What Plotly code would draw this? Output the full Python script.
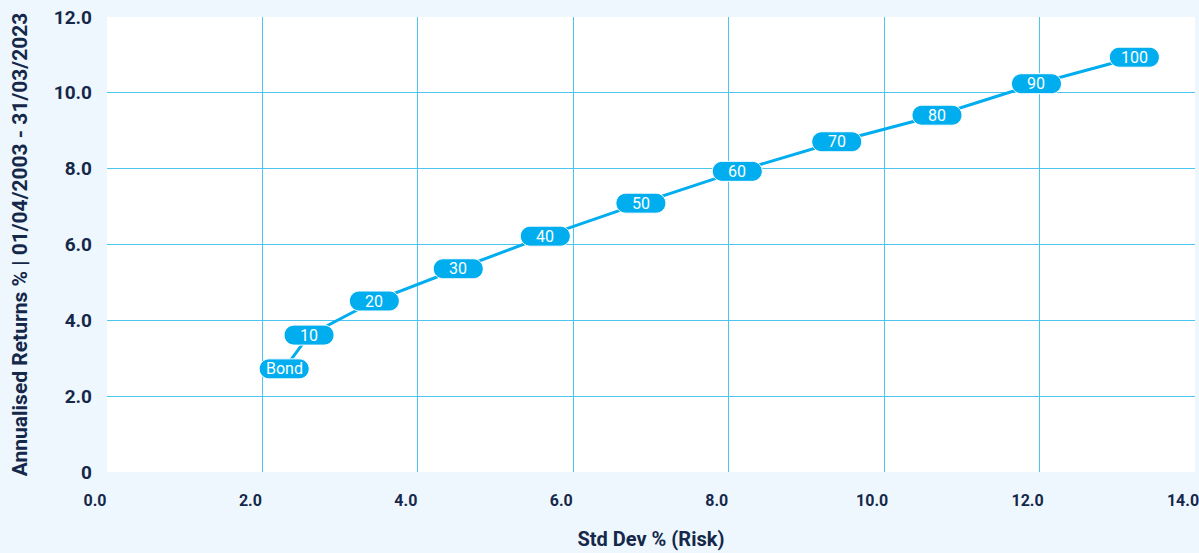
import plotly.graph_objects as go

# ---- data ----
labels = ["Bond", "10", "20", "30", "40", "50", "60", "70", "80", "90", "100"]
risk = [2.28, 2.60, 3.44, 4.52, 5.64, 6.87, 8.11, 9.39, 10.68, 11.96, 13.22]
returns = [2.72, 3.61, 4.51, 5.36, 6.22, 7.09, 7.93, 8.71, 9.41, 10.24, 10.94]

x_ticks = [0, 2, 4, 6, 8, 10, 12, 14]
x_ticktext = ["0.0", "2.0", "4.0", "6.0", "8.0", "10.0", "12.0", "14.0"]
y_ticks = [0, 2, 4, 6, 8, 10, 12]
y_ticktext = ["0", "2.0", "4.0", "6.0", "8.0", "10.0", "12.0"]

# ---- styles ----
CYAN = "#00AEEF"
GRID = "#4CC6F1"
NAVY = "#15284A"
BG = "#EEF7FD"
FONT = "Roboto, sans-serif"

PILL = ("M -15,-10 L 15,-10 C 20.5,-10 25,-5.5 25,0 C 25,5.5 20.5,10 15,10 "
        "L -15,10 C -20.5,10 -25,5.5 -25,0 C -25,-5.5 -20.5,-10 -15,-10 Z")

fig = go.Figure()
fig.add_trace(go.Scatter(
    x=risk, y=returns, mode="lines",
    line=dict(color=CYAN, width=3),
    hoverinfo="skip", showlegend=False,
))

shapes = []
annotations = []
for lab, xv, yv in zip(labels, risk, returns):
    shapes.append(dict(
        type="path", xref="x", yref="y",
        xsizemode="pixel", ysizemode="pixel",
        xanchor=xv, yanchor=yv, path=PILL,
        fillcolor=CYAN, line=dict(color="white", width=1), layer="above",
    ))
    annotations.append(dict(
        x=xv, y=yv, xref="x", yref="y", text=lab, showarrow=False,
        font=dict(family=FONT, size=16, color="white"),
    ))

fig.update_layout(
    width=1199, height=553,
    margin=dict(l=107, r=4, t=17, b=81),
    paper_bgcolor=BG, plot_bgcolor="white",
    shapes=shapes, annotations=annotations,
    font=dict(family=FONT, color=NAVY),
    xaxis=dict(
        range=[0, 14], tickvals=x_ticks, ticktext=x_ticktext,
        showgrid=True, gridcolor=GRID, gridwidth=1, zeroline=False,
        showline=False, ticks="", ticklabelstandoff=17, ticklabelshift=-12,
        ticklabeloverflow="allow",
        tickfont=dict(family=FONT, size=16, color=NAVY, weight="bold"),
        title=dict(text="Std Dev % (Risk)", standoff=22,
                   font=dict(family=FONT, size=20, color=NAVY, weight="bold")),
        automargin=False,
    ),
    yaxis=dict(
        range=[0, 12], tickvals=y_ticks, ticktext=y_ticktext,
        showgrid=True, gridcolor=GRID, gridwidth=1, zeroline=False,
        showline=False, ticks="", ticklabelstandoff=14,
        tickfont=dict(family=FONT, size=19, color=NAVY, weight="bold"),
        title=dict(text="Annualised Returns % | 01/04/2003 - 31/03/2023", standoff=20,
                   font=dict(family=FONT, size=21, color=NAVY, weight="bold")),
        automargin=False,
    ),
)

fig.write_html("out.html")
